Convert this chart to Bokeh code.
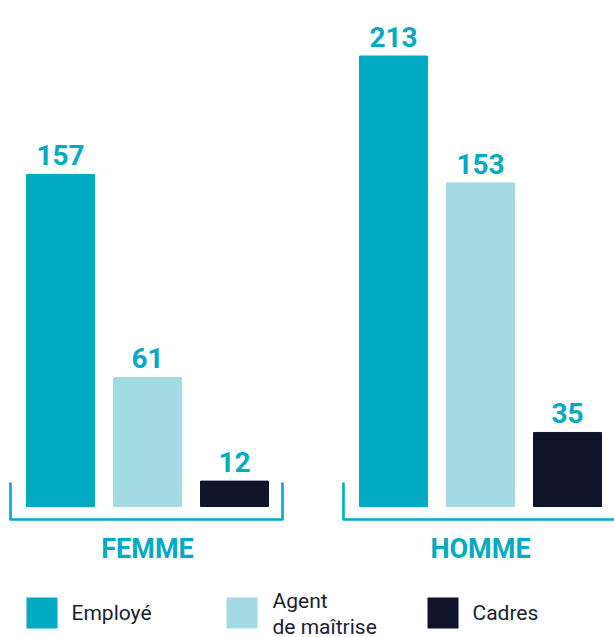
from bokeh.plotting import figure
from bokeh.models import Range1d, ColumnDataSource
from bokeh.core.properties import value
from bokeh.embed import file_html
from bokeh.resources import INLINE

# ---- data ----
groups = ["FEMME", "HOMME"]
categories = ["Employé", "Agent\nde maîtrise", "Cadres"]
femme = [157, 61, 12]
homme = [213, 153, 35]
colors = ["#00aac2", "#a3dae4", "#10142a"]

TEAL = "#00aac2"
DARK = "#1a1d33"
FONT = value("Roboto")

# ---- layout (pixel-ish) ----
W, H = 614, 637
K = 2.115          # px per unit
BASE = 131         # px from bottom to bar baseline
BAR_W = 68
STEP = 87
GROUP_STEP = 333
X0 = 60
SHIFT = 8          # compensation for svg text baseline rendering
LABEL_GAP = 11 + SHIFT

p = figure(width=W, height=H, output_backend="svg", toolbar_location=None,
           x_range=Range1d(0, W), y_range=Range1d(-BASE / K, (H - BASE) / K),
           min_border=0)
p.extra_y_ranges = {"px": Range1d(H, 0)}
p.axis.visible = False
p.grid.visible = False
p.outline_line_color = None
p.background_fill_color = "white"
p.border_fill_color = "white"

series = [femme, homme]
centers = []
for gi, vals in enumerate(series):
    xs = [X0 + gi * GROUP_STEP + ti * STEP for ti in range(len(vals))]
    centers.append(xs)
    src = ColumnDataSource(dict(x=xs, top=vals, color=colors,
                                ly=[v + LABEL_GAP / K for v in vals],
                                label=[str(v) for v in vals]))
    p.vbar(x="x", top="top", bottom=0, width=BAR_W, color="color", source=src)
    p.text(x="x", y="ly", text="label", source=src, text_align="center",
           text_baseline="alphabetic", text_font=FONT,
           text_font_style="bold", text_font_size="28px", text_color=TEAL)

    # bracket
    left = xs[0] - BAR_W / 2 - 16
    right = xs[-1] + BAR_W / 2 + 14
    p.line(x=[left, left, right, right], y=[483, 519, 519, 483], y_range_name="px",
           line_color=TEAL, line_width=2.6, line_join="round", line_cap="round")

# group labels
p.text(x=[c[1] for c in centers], y=[556 - SHIFT] * 2, text=groups, y_range_name="px",
       text_align="center", text_baseline="alphabetic", text_font=FONT,
       text_font_style="bold", text_font_size="27px", text_color=TEAL)

# legend
leg_left = [26, 226, 427]
p.quad(left=leg_left, right=[l + 31 for l in leg_left], top=[597] * 3,
       bottom=[628] * 3, y_range_name="px", color=colors, line_color=None)
tx, ty, tt = [], [], []
for l, cat in zip(leg_left, categories):
    lines = cat.split("\n")
    if len(lines) == 1:
        tx.append(l + 45); ty.append(620 - SHIFT); tt.append(lines[0])
    else:
        tx += [l + 46, l + 46]; ty += [608 - SHIFT, 634 - SHIFT]; tt += lines
p.text(x=tx, y=ty, text=tt, y_range_name="px", text_align="left",
       text_baseline="alphabetic", text_font=FONT, text_font_size="21px",
       text_color=DARK)

open("out.html", "w").write(file_html(p, INLINE))
